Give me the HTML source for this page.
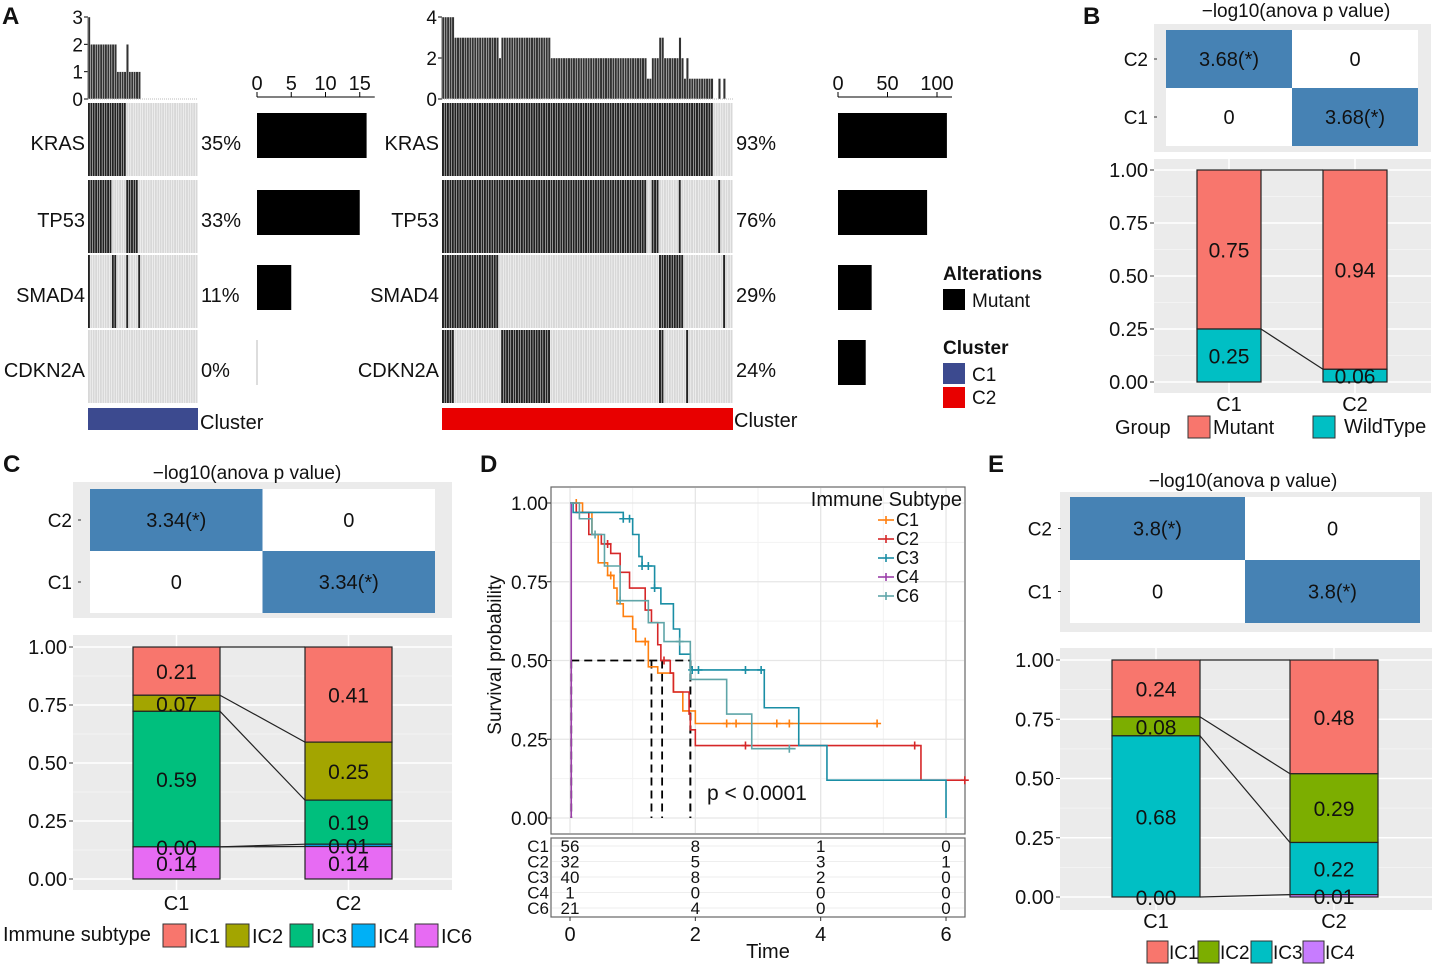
<!DOCTYPE html>
<html><head><meta charset="utf-8">
<style>
html,body{margin:0;padding:0;background:#fff;}
svg{display:block;font-family:"Liberation Sans",Arial,sans-serif;}
</style></head>
<body>
<svg id="fig" width="1439" height="966" viewBox="0 0 1439 966" xmlns="http://www.w3.org/2000/svg"></svg>
<script>
// ---------- DATA ----------
const genes = ["KRAS","TP53","SMAD4","CDKN2A"];
const leftN = 46;
const rightN = 118;
const leftMut = [[[0,16]],[[0,10],[16,21]],[[0,1],[10,12],[16,17],[21,22]],[]];
const rightMut = [[[0,110]],[[0,83],[85,88],[96,97],[112,113]],[[0,23],[88,98],[114,115]],[[0,5],[24,44],[88,90],[99,100]]];
const leftPct = ["35%","33%","11%","0%"];
const rightPct = ["93%","76%","29%","24%"];
const leftCounts = [16,15,5,0];
const rightCounts = [110,90,34,28];
const leftTicks = [0,5,10,15];
const rightTicks = [0,50,100];

const bGroups = ["C1","C2"];
const bMutant = [0.75,0.94];
const bWild = [0.25,0.06];
const bHeat = [["3.68(*)","0"],["0","3.68(*)"]];

const cSubtypes = ["IC1","IC2","IC3","IC4","IC6"];
const cColors = ["#f8766d","#a3a500","#00bf7d","#00b0f6","#e76bf3"];
const cC1 = [0.21,0.07,0.59,0.00,0.14];
const cC2 = [0.41,0.25,0.19,0.01,0.14];
const cHeat = "3.34(*)";

const eSubtypes = ["IC1","IC2","IC3","IC4"];
const eColors = ["#f8766d","#7cae00","#00bfc4","#c77cff"];
const eC1 = [0.24,0.08,0.68,0.00];
const eC2 = [0.48,0.29,0.22,0.01];
const eHeat = "3.8(*)";

const kmNames = ["C1","C2","C3","C4","C6"];
const kmColors = ["#ff7f0e","#d62728","#1a8ea5","#9b3fa8","#5fa5a8"];
const kmTimes = [
 [0,0.2,0.35,0.45,0.6,0.7,0.75,0.85,1.0,1.05,1.25,1.4,1.65,1.8,2.0,4.9],
 [0,0.1,0.3,0.5,0.65,0.8,0.95,1.2,1.3,1.4,1.45,1.6,1.65,1.9,1.92,2.0,5.6,6.3],
 [0,0.05,0.85,1.0,1.1,1.15,1.35,1.45,1.65,1.75,1.92,3.1,3.65,4.1,6.0],
 [0,0.02],
 [0,0.15,0.35,0.55,0.8,1.25,1.5,1.92,2.5,2.9,3.6]];
const kmSurv = [
 [1,0.97,0.9,0.81,0.77,0.73,0.68,0.64,0.6,0.56,0.48,0.46,0.4,0.34,0.3,0.3],
 [1,0.97,0.9,0.87,0.84,0.78,0.73,0.66,0.62,0.55,0.5,0.46,0.4,0.33,0.28,0.23,0.12,0.12],
 [1,0.97,0.95,0.9,0.83,0.8,0.73,0.68,0.6,0.52,0.47,0.35,0.23,0.12,0.0],
 [1,0],
 [1,0.95,0.9,0.8,0.69,0.62,0.56,0.44,0.33,0.22,0.22]];
const kmCensor = [[0.1,0.65,1.2,2.5,2.65,3.3,3.5,4.9],[0.6,1.5,2.8,5.5,6.3],[0.85,0.95,1.15,1.25,1.35,1.95,2.05,2.8,3.05],[],[0.4,0.8,1.75,3.5]];
const kmMedians = [1.3,1.47,1.92,1.92];
const riskTimes = [0,2,4,6];
const riskRows = [[56,8,1,0],[32,5,3,1],[40,8,2,0],[1,0,0,0],[21,4,0,0]];

// ---------- HELPERS ----------
const NS="http://www.w3.org/2000/svg";
const svg=document.getElementById('fig');
function mk(tag,attrs,parent){const e=document.createElementNS(NS,tag);for(const k in attrs)e.setAttribute(k,attrs[k]);(parent||svg).appendChild(e);return e;}
function txt(x,y,s,size,anchor,parent,weight){const e=mk('text',{x:x,y:y,'font-size':size||19,'text-anchor':anchor||'start',fill:'#111'},parent);if(weight)e.setAttribute('font-weight',weight);e.textContent=s;return e;}

// ---------- PANEL LABELS ----------
[["A",2,24],["B",1083,24],["C",3,472],["D",480,472],["E",988,472]].forEach(p=>{
 const t=txt(p[1],p[2],p[0],24,'start',svg,'bold');
 
 
});

// ---------- PANEL A ----------
const rowY=[103,180,255,330], rowH=73;
function oncoprint(x0,w,N,muts,pct,maxTop,topTicks,name){
 const g=mk('g',{});
 
 
 const cw=w/N;
 const counts=new Array(N).fill(0);
 genes.forEach((gn,i)=>{
  for(let c=0;c<N;c++){
   let m=muts[i].some(r=>c>=r[0]&&c<r[1]);
   if(m)counts[c]++;
   mk('rect',{x:x0+c*cw,y:rowY[i],width:cw-0.5,height:rowH,fill:m?'#222':'#d8d8d8'},g);
  }
  const l=txt(x0-3,rowY[i]+47,gn,20,'end',g);
  
  
  const p=txt(x0+w+3,rowY[i]+47,pct[i],20,'start',g);
  
  
 });
 const top=99,hgt=82;
 mk('line',{x1:x0,y1:17,x2:x0,y2:top,stroke:'#000'},g);
 topTicks.forEach(t=>{const y=top-t/maxTop*hgt;mk('line',{x1:x0-4,y1:y,x2:x0,y2:y,stroke:'#000'},g);txt(x0-5,y+7,String(t),19,'end',g);});
 for(let c=0;c<N;c++){if(counts[c]>0){const h=counts[c]/maxTop*hgt;mk('rect',{x:x0+c*cw,y:top-h,width:cw,height:h,fill:'#333',stroke:'#fff','stroke-width':0.4},g);}}
 mk('line',{x1:x0,y1:top,x2:x0+w,y2:top,stroke:'#bbb','stroke-dasharray':'1,1'},g);
 return g;
}
oncoprint(88,110,leftN,leftMut,leftPct,3,[0,1,2,3],'oncoprint-c1');
oncoprint(442,291,rightN,rightMut,rightPct,4,[0,2,4],'oncoprint-c2');
let cb=mk('rect',{x:88,y:408,width:110,height:22,fill:'#3c4a8f'});


txt(200,429,'Cluster',20);
cb=mk('rect',{x:442,y:408,width:291,height:22,fill:'#e80000'});


txt(734,427,'Cluster',20);
function sideBars(x0,scale,counts,ticks,name){
 const g=mk('g',{});
 
 
 const xs=v=>x0+v*scale;
 mk('line',{x1:xs(0),y1:97,x2:xs(ticks[ticks.length-1])+15,y2:97,stroke:'#000'},g);
 ticks.forEach(t=>{mk('line',{x1:xs(t),y1:92,x2:xs(t),y2:97,stroke:'#000'},g);txt(xs(t),90,String(t),20,'middle',g);});
 counts.forEach((c,i)=>{
  if(c>0){const r=mk('rect',{x:xs(0),y:rowY[i]+10,width:xs(c)-xs(0),height:45,fill:'#000'},g);
   
   }
  else mk('line',{x1:xs(0),y1:rowY[i]+10,x2:xs(0),y2:rowY[i]+55,stroke:'#bbb'},g);
 });
}
sideBars(257,6.85,leftCounts,leftTicks,'count-barplot-c1');
sideBars(838,0.99,rightCounts,rightTicks,'count-barplot-c2');
const lg=mk('g',{});


txt(943,280,'Alterations',19,'start',lg,'bold');
mk('rect',{x:943,y:289,width:22,height:21,fill:'#000'},lg);txt(972,307,'Mutant',19,'start',lg);
txt(943,354,'Cluster',19,'start',lg,'bold');
mk('rect',{x:943,y:363,width:22,height:21,fill:'#3c4a8f'},lg);txt(972,381,'C1',19,'start',lg);
mk('rect',{x:943,y:387,width:22,height:21,fill:'#e80000'},lg);txt(972,404,'C2',19,'start',lg);

// ---------- HEATMAP + STACKED BAR helper ----------
function heat(bx,by,bw,bh,cx1,cx2,cy1,cy2,vals,title,tx,ty,name){
 const g=mk('g',{});
 
 
 mk('rect',{x:bx,y:by,width:bw,height:bh,fill:'#ebebeb'},g);
 txt(tx,ty,title,19,'middle',g);
 const mx=(cx1+cx2)/2,my=(cy1+cy2)/2;
 for(let r=0;r<2;r++)for(let c=0;c<2;c++){
  const x=c?mx:cx1,y=r?my:cy1,w=c?cx2-mx:mx-cx1,h=r?cy2-my:my-cy1;
  const blue=vals[r][c]!=="0";
  const cell=mk('rect',{x:x,y:y,width:w,height:h,fill:blue?'#4682b4':'#fff'},g);
  
  
  txt(x+w/2,y+h/2+7,vals[r][c],20,'middle',g);
 }
 txt(cx1-18,(cy1+my)/2+7,'C2',19,'end',g);txt(cx1-18,(my+cy2)/2+7,'C1',19,'end',g);
 mk('line',{x1:cx1-12,y1:(cy1+my)/2,x2:cx1-9,y2:(cy1+my)/2,stroke:'#333'},g);
 mk('line',{x1:cx1-12,y1:(my+cy2)/2,x2:cx1-9,y2:(my+cy2)/2,stroke:'#333'},g);
}
function stacked(bx,by,bw,bh,y1,y0,barX,barW,cols1,cols2,colors,name,labelY){
 const g=mk('g',{});
 
 
 const ys=v=>y0-v*(y0-y1);
 mk('rect',{x:bx,y:by,width:bw,height:bh,fill:'#ebebeb'},g);
 [0.125,0.375,0.625,0.875].forEach(v=>mk('line',{x1:bx,y1:ys(v),x2:bx+bw,y2:ys(v),stroke:'#f6f6f6','stroke-width':0.8},g));
 [0,0.25,0.5,0.75,1].forEach(v=>{mk('line',{x1:bx,y1:ys(v),x2:bx+bw,y2:ys(v),stroke:'#fff','stroke-width':1.5},g);
  mk('line',{x1:bx-4,y1:ys(v),x2:bx,y2:ys(v),stroke:'#333'},g);
  txt(bx-6,ys(v)+7,v.toFixed(2),20,'end',g);});
 barX.forEach(x=>mk('line',{x1:x+barW/2,y1:by,x2:x+barW/2,y2:by+bh,stroke:'#fff','stroke-width':1.5},g));
 const data=[cols1,cols2];const bounds=[[],[]];
 data.forEach((vals,b)=>{
  let cum=0;const n=vals.length;const segs=[];
  for(let i=n-1;i>=0;i--){segs[i]=[cum,cum+vals[i]];cum+=vals[i];}
  const tot=cum;
  for(let i=0;i<n;i++){
   const a=segs[i][0]/tot,z=segs[i][1]/tot;
   bounds[b][i]=z;
   const r=mk('rect',{x:barX[b],y:ys(z),width:barW,height:ys(a)-ys(z),fill:colors[i],stroke:'#222','stroke-width':1.2},g);
   
   
  }
  for(let i=0;i<n;i++){const a=segs[i][0]/tot,z=segs[i][1]/tot;txt(barX[b]+barW/2,(ys(a)+ys(z))/2+8,vals[i].toFixed(2),21,'middle',g);}
  txt(barX[b]+barW/2,labelY,b?'C2':'C1',20,'middle',g);
 });
 for(let i=0;i<cols1.length;i++)mk('line',{x1:barX[0]+barW,y1:ys(bounds[0][i]),x2:barX[1],y2:ys(bounds[1][i]),stroke:'#222','stroke-width':1.2},g);
}

// ---------- PANEL B ----------
heat(1154,24,277,128,1166,1418,30,146,bHeat,'\u2212log10(anova p value)',1296,17,'heatmap-b');
stacked(1154,159,277,234,170,382,[1197,1323],64,[bMutant[0],bWild[0]],[bMutant[1],bWild[1]],['#f8766d','#00bfc4'],'stacked-bar-b',411);
const lb=mk('g',{});


txt(1115,434,'Group',20,'start',lb);
mk('rect',{x:1188,y:416,width:22,height:22,fill:'#f8766d',stroke:'#333'},lb);txt(1213,434,'Mutant',20,'start',lb);
mk('rect',{x:1313,y:416,width:22,height:22,fill:'#00bfc4',stroke:'#333'},lb);txt(1344,433,'WildType',20,'start',lb);

// ---------- PANEL C ----------
heat(73,482,379,136,90,435,489,613,[[cHeat,"0"],["0",cHeat]],'\u2212log10(anova p value)',247,479,'heatmap-c');
stacked(73,635,379,255,647,879,[133,305],87,cC1,cC2,cColors,'stacked-bar-c',910);
const lc=mk('g',{});


txt(3,941,'Immune subtype',20,'start',lc);
const cLx=[163,226,290,352,415];
cSubtypes.forEach((s,i)=>{mk('rect',{x:cLx[i],y:924,width:23,height:23,fill:cColors[i],stroke:'#333'},lc);txt(cLx[i]+26,943,s,20,'start',lc);});

// ---------- PANEL E ----------
heat(1060,492,372,140,1070,1420,497,623,[[eHeat,"0"],["0",eHeat]],'\u2212log10(anova p value)',1243,487,'heatmap-e');
stacked(1060,648,372,262,660,897,[1112,1290],88,eC1,eC2,eColors,'stacked-bar-e',928);
const le=mk('g',{});


const eLx=[1147,1198,1251,1303];
eSubtypes.forEach((s,i)=>{mk('rect',{x:eLx[i],y:941,width:21,height:22,fill:eColors[i],stroke:'#333'},le);txt(eLx[i]+22,959,s,19,'start',le);});

// ---------- PANEL D ----------
const dg=mk('g',{});


const kx=t=>570+t*62.67, ky=v=>818-v*315;
mk('rect',{x:551,y:487,width:414,height:347,fill:'#fff',stroke:'#666','stroke-width':1.2},dg);
[1,3,5].forEach(t=>mk('line',{x1:kx(t),y1:488,x2:kx(t),y2:833,stroke:'#f2f2f2'},dg));
[0.125,0.375,0.625,0.875].forEach(v=>mk('line',{x1:552,y1:ky(v),x2:964,y2:ky(v),stroke:'#f2f2f2'},dg));
[0,2,4,6].forEach(t=>mk('line',{x1:kx(t),y1:488,x2:kx(t),y2:833,stroke:'#e6e6e6','stroke-width':1.3},dg));
[0,0.25,0.5,0.75,1].forEach(v=>{mk('line',{x1:552,y1:ky(v),x2:964,y2:ky(v),stroke:'#e6e6e6','stroke-width':1.3},dg);
 mk('line',{x1:547,y1:ky(v),x2:551,y2:ky(v),stroke:'#333'},dg);txt(548,ky(v)+7,v.toFixed(2),19,'end',dg);});
const yl=txt(0,0,'Survival probability',19,'middle',dg);
yl.setAttribute('transform','translate(501,655) rotate(-90)');


const dash={stroke:'#000','stroke-width':1.8,'stroke-dasharray':'8,5',fill:'none'};
mk('line',Object.assign({x1:kx(0.02),y1:ky(0.5),x2:kx(1.92),y2:ky(0.5)},dash),dg);
kmMedians.concat([0.02]).forEach(t=>mk('line',Object.assign({x1:kx(t),y1:ky(0.5),x2:kx(t),y2:ky(0)},dash),dg));
function survAt(i,t){let s=1;for(let k=0;k<kmTimes[i].length;k++)if(kmTimes[i][k]<=t)s=kmSurv[i][k];return s;}
kmNames.forEach((n,i)=>{
 let d='M'+kx(kmTimes[i][0])+','+ky(kmSurv[i][0]);
 for(let k=1;k<kmTimes[i].length;k++){d+=' H'+kx(kmTimes[i][k])+' V'+ky(kmSurv[i][k]);}
 const p=mk('path',{d:d,fill:'none',stroke:kmColors[i],'stroke-width':1.6},dg);
 
 
 kmCensor[i].forEach(t=>{const x=kx(t),y=ky(survAt(i,t));mk('path',{d:`M${x-4},${y}H${x+4}M${x},${y-4}V${y+4}`,stroke:kmColors[i],'stroke-width':1.6},dg);});
});
txt(707,800,'p < 0.0001',21,'start',dg);
txt(962,506,'Immune Subtype',20,'end',dg);
kmNames.forEach((n,i)=>{const y=520+i*19;mk('line',{x1:878,y1:y,x2:894,y2:y,stroke:kmColors[i],'stroke-width':1.6},dg);
 mk('line',{x1:886,y1:y-4,x2:886,y2:y+4,stroke:kmColors[i],'stroke-width':1.6},dg);txt(896,y+6,n,18,'start',dg);});
mk('rect',{x:551,y:838,width:414,height:79,fill:'#fff',stroke:'#666','stroke-width':1.2},dg);
riskRows.forEach((r,i)=>{const y=846+i*15.5;mk('line',{x1:552,y1:y,x2:964,y2:y,stroke:'#eee'},dg);
 txt(549,y+6,kmNames[i],17,'end',dg);
 r.forEach((v,j)=>txt(kx(riskTimes[j]),y+6,String(v),17,'middle',dg));});
[0,2,4,6].forEach(t=>{mk('line',{x1:kx(t),y1:917,x2:kx(t),y2:921,stroke:'#333'},dg);txt(kx(t),941,String(t),20,'middle',dg);});
const xt=txt(768,958,'Time',20,'middle',dg);


</script>
</body></html>
